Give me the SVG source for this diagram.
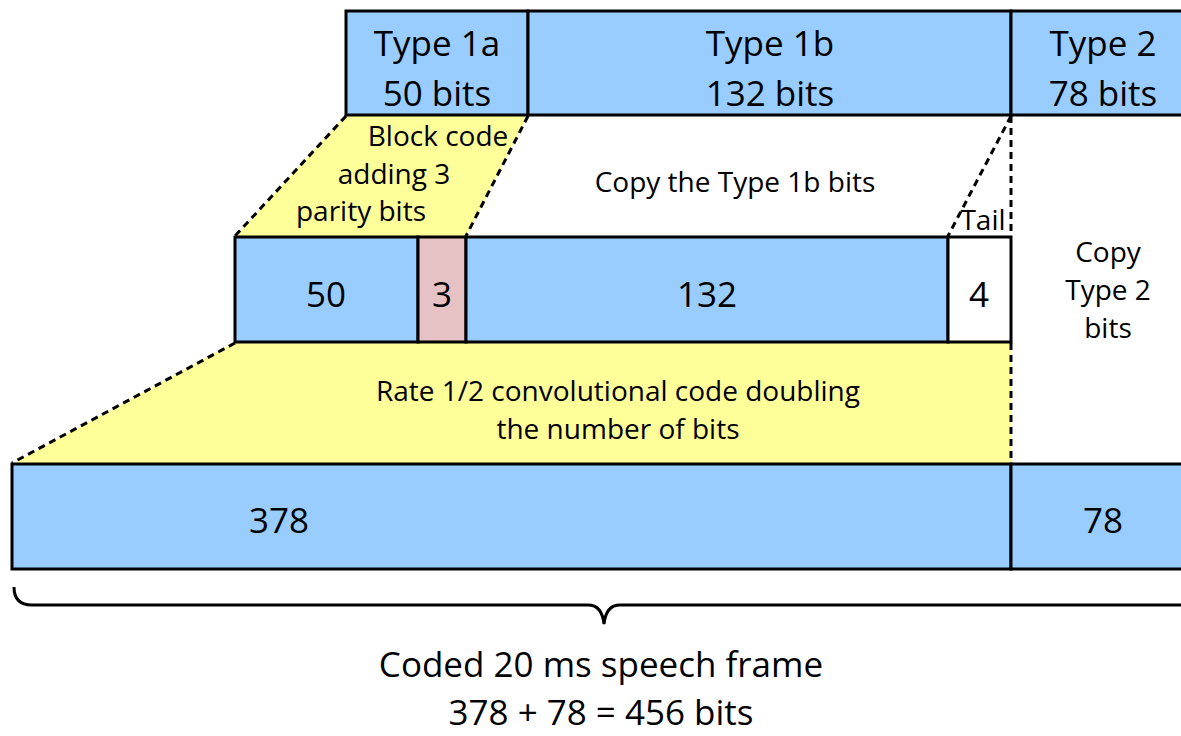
<svg xmlns="http://www.w3.org/2000/svg" width="1181" height="736" viewBox="0 0 1181 736">
<style>
.blue{fill:#99CCFF;stroke:#000;stroke-width:3}
.pink{fill:#E6C2C5;stroke:#000;stroke-width:3}
.white{fill:#FFFFFF;stroke:#000;stroke-width:3}
.yel{fill:#FFFF99;stroke:none}
.dash{fill:none;stroke:#000;stroke-width:3;stroke-dasharray:7 5}
.solid{fill:none;stroke:#000;stroke-width:3}
text{font-family:"Open Sans","Noto Sans",sans-serif;fill:#000;text-anchor:middle}
.big{font-size:35px}
.mid{font-size:28px}
.cap{font-size:35px}
</style>
<rect width="1181" height="736" fill="#FFFFFF"/>
<g id="bands">
<polygon class="yel" points="346,115 528,115 466,237 235,237"/>
<polygon class="yel" points="235,342 1011,342 1011,464 12,464"/>
</g>
<g id="connectors">
<line class="dash" x1="346" y1="116" x2="235" y2="236"/>
<line class="dash" x1="528" y1="116" x2="466" y2="236"/>
<line class="dash" x1="1011" y1="116" x2="948" y2="236"/>
<line class="dash" x1="1011" y1="116" x2="1011" y2="236"/>
<line class="dash" x1="235" y1="343" x2="12" y2="463"/>
<line class="dash" x1="1011" y1="343" x2="1011" y2="463"/>
</g>
<g id="type1a">
<rect class="blue" x="346" y="11" width="182" height="104"/>
<text class="big" x="437" y="56">Type 1a</text>
<text class="big" x="437" y="106">50 bits</text>
</g>
<g id="type1b">
<rect class="blue" x="528" y="11" width="483" height="104"/>
<text class="big" x="770" y="56">Type 1b</text>
<text class="big" x="770" y="106">132 bits</text>
</g>
<g id="type2">
<path class="blue" d="M1190,11 H1011 V115 H1190"/>
<text class="big" x="1103" y="56">Type 2</text>
<text class="big" x="1103" y="106">78 bits</text>
</g>
<g id="blockcode">
<text class="mid" x="438" y="146">Block code</text>
<text class="mid" x="394" y="184">adding 3</text>
<text class="mid" x="361" y="221">parity bits</text>
</g>
<g id="copy1b">
<text class="mid" x="735" y="192">Copy the Type 1b bits</text>
</g>
<g id="tail">
<text class="mid" x="983" y="230">Tail</text>
</g>
<g id="b50">
<rect class="blue" x="235" y="237" width="183" height="105"/>
<text class="big" x="326" y="307">50</text>
</g>
<g id="b3">
<rect class="pink" x="418" y="237" width="48" height="105"/>
<text class="big" x="442" y="307">3</text>
</g>
<g id="b132">
<rect class="blue" x="466" y="237" width="482" height="105"/>
<text class="big" x="707" y="307">132</text>
</g>
<g id="b4">
<rect class="white" x="948" y="237" width="63" height="105"/>
<text class="big" x="979" y="307">4</text>
</g>
<g id="copy2">
<text class="mid" x="1108" y="262">Copy</text>
<text class="mid" x="1108" y="300">Type 2</text>
<text class="mid" x="1108" y="338">bits</text>
</g>
<g id="conv">
<text class="mid" x="618" y="401">Rate 1/2 convolutional code doubling</text>
<text class="mid" x="618" y="439">the number of bits</text>
</g>
<g id="b378">
<rect class="blue" x="12" y="464" width="999" height="105"/>
<text class="big" x="279" y="533">378</text>
</g>
<g id="b78">
<path class="blue" d="M1190,464 H1011 V569 H1190"/>
<text class="big" x="1103" y="533">78</text>
</g>
<g id="brace">
<path class="solid" d="M14,587 Q14,605 32,605 H588 Q602,605 604,624 Q606,605 620,605 H1190"/>
</g>
<g id="caption">
<text class="cap" x="601" y="677">Coded 20 ms speech frame</text>
<text class="cap" x="601" y="725">378 + 78 = 456 bits</text>
</g>
</svg>
